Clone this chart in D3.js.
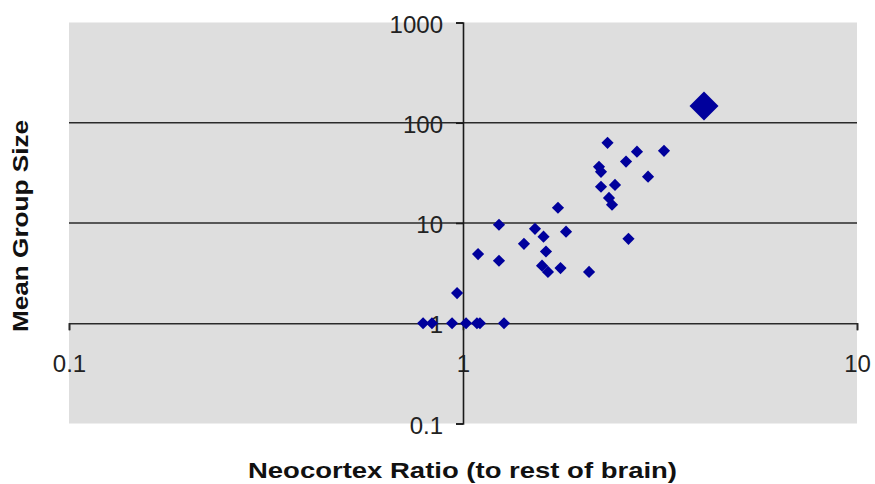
<!DOCTYPE html>
<html>
<head>
<meta charset="utf-8">
<script src="https://cdn.jsdelivr.net/npm/d3@7"></script>
<style>
  html, body { margin: 0; padding: 0; background: #ffffff; }
  svg { display: block; }
</style>
</head>
<body>
<svg id="chart" width="875" height="484"></svg>
<script>
// ---- data ----
const neocortexRatio = [0.792, 0.834, 0.938, 1.018, 1.085, 1.104, 1.271, 0.966,
  1.092, 1.234, 1.234, 1.428, 1.523, 1.601, 1.624, 1.587, 1.643, 1.742, 1.826,
  1.768, 2.089, 2.630, 2.327, 2.764, 3.237, 2.593, 2.214, 2.240, 2.949, 2.240,
  2.431, 2.347, 2.389];
const meanGroupSize = [1, 1, 1, 1, 1, 1, 1, 2.0,
  4.9, 9.6, 4.2, 6.2, 8.75, 7.3, 5.2, 3.75, 3.25, 14.2, 8.2,
  3.55, 3.25, 6.95, 63, 51.5, 52.5, 41, 36.3, 32.4, 29, 23,
  24, 17.8, 15.2];
const humanRatio = [4.09];
const humanGroupSize = [147];

const xTicks = [0.1, 1, 10];
const yTicks = [0.1, 1, 10, 100, 1000];
const xTickLabels = ["0.1", "1", "10"];
const yTickLabels = ["0.1", "1", "10", "100", "1000"];
const yGridValues = [10, 100];

const xTitle = "Neocortex Ratio (to rest of brain)";
const yTitle = "Mean Group Size";

// ---- layout ----
const plot = { left: 69, right: 857, top: 22.5, bottom: 423.5 };
const svg = d3.select("#chart");
const font = "'Liberation Sans', Arial, sans-serif";

const x = d3.scaleLog().domain([0.1, 10]).range([plot.left, plot.right]);
const y = d3.scaleLog().domain([0.1, 1000]).range([plot.bottom, plot.top]);

// plot background
svg.append("rect")
  .attr("x", plot.left).attr("y", plot.top)
  .attr("width", plot.right - plot.left).attr("height", plot.bottom - plot.top)
  .attr("fill", "#dedede");

// horizontal gridlines
svg.append("g").selectAll("line").data(yGridValues).join("line")
  .attr("x1", plot.left).attr("x2", plot.right)
  .attr("y1", d => y(d)).attr("y2", d => y(d))
  .attr("stroke", "#2a2a2a").attr("stroke-width", 1.6);

// x axis crossing at y = 1
const xAxis = svg.append("g")
  .attr("transform", `translate(0,${y(1)})`)
  .call(d3.axisBottom(x).tickValues(xTicks).tickSize(7).tickSizeOuter(7)
    .tickFormat((d, i) => xTickLabels[i]));
xAxis.select(".domain").attr("stroke", "#2a2a2a").attr("stroke-width", 1.6);
xAxis.selectAll(".tick line").attr("stroke", "#2a2a2a").attr("stroke-width", 1.6);
xAxis.selectAll(".tick text")
  .attr("y", 48.5).attr("dy", null)
  .attr("font-family", font).attr("font-size", 24).attr("fill", "#222");

// y axis crossing at x = 1
const yAxis = svg.append("g")
  .attr("transform", `translate(${x(1)},0)`)
  .call(d3.axisLeft(y).tickValues(yTicks).tickSize(7).tickSizeOuter(7)
    .tickFormat((d, i) => yTickLabels[i]));
yAxis.select(".domain").attr("stroke", "#1a1a1a").attr("stroke-width", 1.6);
yAxis.selectAll(".tick line").attr("stroke", "#1a1a1a").attr("stroke-width", 1.6);
yAxis.selectAll(".tick text")
  .attr("x", -20).attr("dy", 9.5)
  .attr("font-family", font).attr("font-size", 24).attr("fill", "#222");
// keep y axis line over the x "1" label
yAxis.select(".domain").raise();

// points
const pts = neocortexRatio.map((r, i) => ({ r, g: meanGroupSize[i] }));
const small = d3.symbol().type(d3.symbolSquare).size(74);
svg.append("g").selectAll("path").data(pts).join("path")
  .attr("d", small)
  .attr("transform", d => `translate(${x(d.r)},${y(d.g)}) rotate(45)`)
  .attr("fill", "#00009c");

const humans = humanRatio.map((r, i) => ({ r, g: humanGroupSize[i] }));
const big = d3.symbol().type(d3.symbolSquare).size(420);
svg.append("g").selectAll("path").data(humans).join("path")
  .attr("d", big)
  .attr("transform", d => `translate(${x(d.r)},${y(d.g)}) rotate(45)`)
  .attr("fill", "#00009c");

// axis titles
svg.append("text")
  .attr("x", 462.5).attr("y", 478)
  .attr("text-anchor", "middle")
  .attr("font-family", font).attr("font-weight", "bold").attr("font-size", 22)
  .attr("textLength", 429).attr("lengthAdjust", "spacingAndGlyphs")
  .attr("fill", "#111")
  .text(xTitle);

svg.append("text")
  .attr("transform", "translate(28,226) rotate(-90)")
  .attr("text-anchor", "middle")
  .attr("font-family", font).attr("font-weight", "bold").attr("font-size", 22)
  .attr("textLength", 212).attr("lengthAdjust", "spacingAndGlyphs")
  .attr("fill", "#111")
  .text(yTitle);
</script>
</body>
</html>
